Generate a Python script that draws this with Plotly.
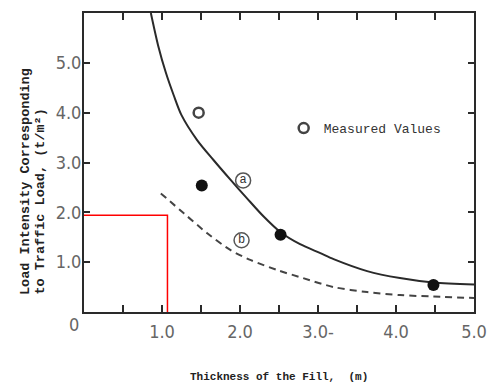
import plotly.graph_objects as go

# ---- data ----
curve_a_x = [0.857, 0.95, 1.05, 1.15, 1.25, 1.45, 1.66, 1.88, 2.09, 2.30, 2.52, 2.77, 3.03, 3.20, 3.63, 4.05, 4.48, 5.0]
curve_a_y = [6.0, 5.35, 4.8, 4.35, 3.95, 3.45, 3.05, 2.65, 2.28, 1.92, 1.60, 1.36, 1.18, 1.06, 0.82, 0.68, 0.59, 0.55]

curve_b_x = [0.985, 1.28, 1.58, 1.88, 2.14, 2.48, 2.81, 3.20, 3.63, 4.05, 4.48, 5.0]
curve_b_y = [2.38, 1.98, 1.58, 1.24, 1.04, 0.84, 0.68, 0.50, 0.40, 0.34, 0.31, 0.28]

open_x = [1.47]
open_y = [4.0]

filled_x = [1.51, 2.52, 4.48]
filled_y = [2.54, 1.55, 0.54]

label_x = [2.04, 2.02]
label_y = [2.64, 1.44]
label_text = ["a", "b"]

red_x = [0.0, 1.07, 1.07]
red_y = [1.94, 1.94, 0.0]

x_tickvals = [0.5, 1.0, 1.5, 2.0, 2.5, 3.0, 3.5, 4.0, 4.5, 5.0]
x_ticktext = ["", "1.0", "", "2.0", "", "3.0-", "", "4.0", "", "5.0"]
y_tickvals = [1, 2, 3, 4, 5]
y_ticktext = ["1.0", "2.0", "3.0", "4.0", "5.0"]

x_title = "Thickness of the Fill,  (m)"
y_title_1 = "Load Intensity Corresponding"
y_title_2 = "to Traffic Load, (t/m²)"
legend_text = "Measured Values"

INK = "#2a2a2a"
TICKFONT = dict(family="Liberation Sans Narrow, DejaVu Sans Condensed, Liberation Sans, sans-serif", size=18, color="#666666")
MONO = "Liberation Mono, DejaVu Sans Mono, monospace"

fig = go.Figure()

fig.add_trace(go.Scatter(x=red_x, y=red_y, mode="lines",
                         line=dict(color="#ff0000", width=1.5), showlegend=False, hoverinfo="skip"))

fig.add_trace(go.Scatter(x=curve_a_x, y=curve_a_y, mode="lines",
                         line=dict(color=INK, width=2, shape="spline", smoothing=0.8),
                         showlegend=False))
fig.add_trace(go.Scatter(x=curve_b_x, y=curve_b_y, mode="lines",
                         line=dict(color="#444444", width=2, dash="7px,5px", shape="spline", smoothing=0.8),
                         showlegend=False))

fig.add_trace(go.Scatter(x=open_x, y=open_y, mode="markers", name=legend_text,
                         marker=dict(symbol="circle-open", size=10, color="#444444", line=dict(width=2.5)),
                         showlegend=True))
fig.add_trace(go.Scatter(x=filled_x, y=filled_y, mode="markers",
                         marker=dict(symbol="circle", size=12, color="#111111"),
                         showlegend=False))

fig.add_trace(go.Scatter(x=label_x, y=label_y, mode="markers+text", text=label_text,
                         textposition="middle center",
                         textfont=dict(family=MONO, size=12, color="#333333"),
                         marker=dict(symbol="circle-open", size=15, color="#555555", line=dict(width=1.5)),
                         showlegend=False))

axis_common = dict(showline=True, linecolor=INK, linewidth=2, mirror="ticks",
                   ticks="inside", tickcolor=INK, tickwidth=1.5, automargin=False,
                   showgrid=False, zeroline=False, tickfont=TICKFONT)

fig.update_layout(
    width=487, height=389,
    margin=dict(l=84, r=13, t=13, b=77),
    paper_bgcolor="white", plot_bgcolor="white",
    xaxis=dict(range=[0, 5], tickvals=x_tickvals, ticktext=x_ticktext, ticklen=7,
               ticklabelstandoff=2, **axis_common),
    yaxis=dict(range=[0, 6], tickvals=y_tickvals, ticktext=y_ticktext, ticklen=6,
               ticklabelstandoff=-3, **axis_common),
    legend=dict(x=0.512, y=0.615, xanchor="left", yanchor="middle",
                bgcolor="rgba(0,0,0,0)", font=dict(family=MONO, size=13, color="#333333")),
    showlegend=True,
)

fig.add_annotation(x=0, y=0, xref="x", yref="y", text="0", showarrow=False,
                   xshift=-10, yshift=-12, font=TICKFONT)
fig.add_annotation(x=0.5, y=-0.217, xref="paper", yref="paper", yanchor="middle",
                   text="<b>" + x_title + "</b>",
                   showarrow=False, font=dict(family=MONO, size=11, color="#222222"))
fig.add_annotation(x=0, y=0.05, xref="paper", yref="paper", yanchor="bottom", xshift=-68,
                   text="<b>" + y_title_1 + "</b>",
                   textangle=-90, showarrow=False, font=dict(family=MONO, size=13.5, color="#222222"))
fig.add_annotation(x=0, y=0.05, xref="paper", yref="paper", yanchor="bottom", xshift=-53,
                   text="<b>" + y_title_2 + "</b>",
                   textangle=-90, showarrow=False, font=dict(family=MONO, size=13.5, color="#222222"))

fig.write_html("out.html", config={"displayModeBar": False},
               post_script="document.body.style.margin='0px';document.body.style.overflow='hidden';")
